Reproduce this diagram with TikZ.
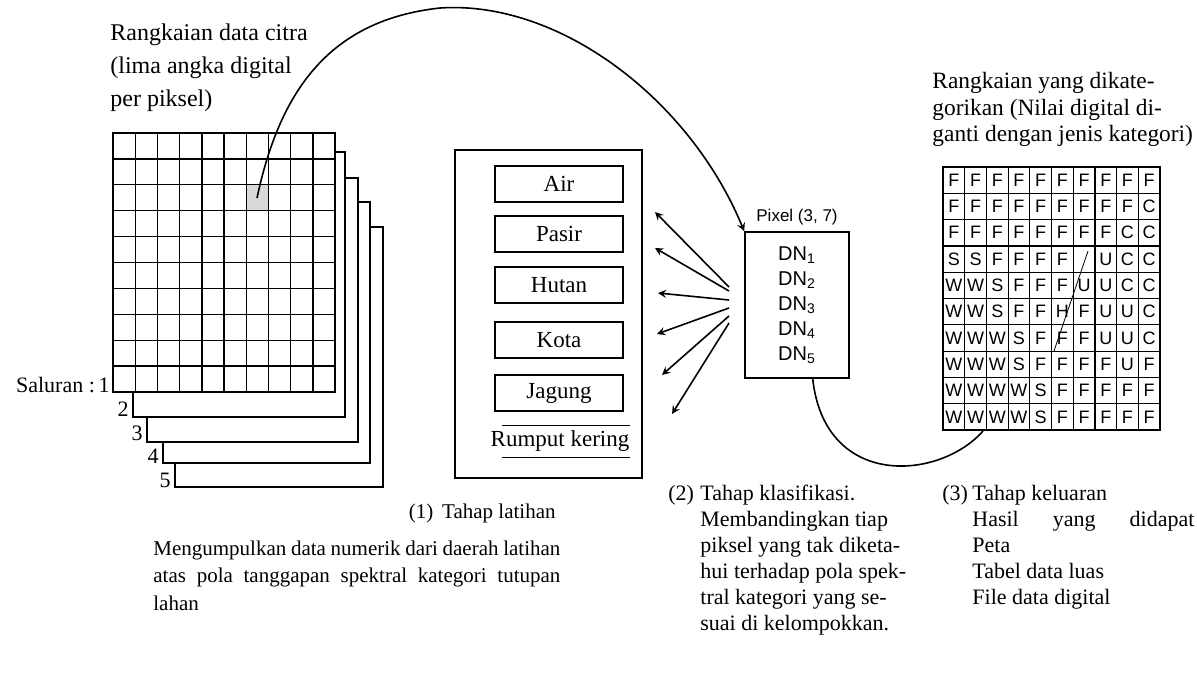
\documentclass[tikz,border=0pt]{standalone}
\usepackage{fontspec}
\setmainfont{Liberation Serif}
\setsansfont{Liberation Sans}
\usetikzlibrary{positioning}

\begin{document}
\begin{tikzpicture}[x=0.5pt,y=-0.5pt,>=stealth,
  txt/.style={anchor=base west,inner sep=0pt,font=\fontsize{11}{13}\selectfont},
  head/.style={txt,font=\fontsize{12}{14}\selectfont},
  chan/.style={anchor=east,inner sep=1pt,font=\fontsize{11}{13}\selectfont},
  catbox/.style={draw,thick,minimum width=64pt,minimum height=18pt,inner sep=0pt,font=\fontsize{11.5}{13}\selectfont},
  cell/.style={draw,line width=0.6pt,minimum width=10.85pt,minimum height=13.15pt,inner sep=0pt,font=\sffamily\fontsize{9}{10}\selectfont}]
\useasboundingbox (0,0) rectangle (1197,679);

% band stack, channel 5 at the back
\foreach \l/\t/\r/\b in {175/227/383/487,163/202/370/463,147/178/358/442,133/152/345/417}
  \draw[thick,fill=white] (\l,\t) rectangle (\r,\b);
% channel 1 with its pixel grid
\fill[white] (113,133) rectangle (335,392);
\fill[gray!30] (246.2,184.8) rectangle (268.4,210.7);
\foreach \i in {1,...,9} {
  \draw[line width=0.7pt] ({113+22.2*\i},133) -- ({113+22.2*\i},392);
  \draw[line width=0.7pt] (113,{133+25.9*\i}) -- (335,{133+25.9*\i});
}
\draw[thick] (113,133) rectangle (335,392);
\coordinate (px) at (257,198);

% channel numbers
\node[chan] (ch1) at (112,385) {Saluran :\,1};
\foreach \n/\x/\y in {2/131/409,3/145/433,4/161/456,5/173/480}
  \node[chan] (ch\n) at (\x,\y) {\n};

% image data label
\foreach \t [count=\i] in {{Rangkaian data citra},{(lima angka digital},{per piksel)}}
  \node[head] (src\i) at (110,{41+33*(\i-1)}) {\t};

% training categories
\node[draw,thick,minimum width=93.5pt,minimum height=164pt] (train) at (548.5,314) {};
\foreach \n/\y in {Air/184,Pasir/234,Hutan/285,Kota/340,Jagung/393}
  \node[catbox] (\n) at (559,\y) {\n};
\node[inner sep=0pt,font=\fontsize{11.5}{13}\selectfont] (Rumput) at (560,441) {Rumput kering};
\draw (502,425) -- (630,425);
\draw (502,457) -- (630,457);

% comparison arrows
\foreach \i/\a/\bx/\by in {1/287/655/212,2/291/655/248,3/300/658/293,4/308/657/334,5/316/662/375,6/323/672/414} {
  \coordinate (f\i) at (729,\a);
  \coordinate (t\i) at (\bx,\by);
  \draw[->,thick] (f\i) -- (t\i);
}

% unknown pixel
\node[draw,thick,minimum width=52pt,minimum height=73pt,align=center,
  font=\sffamily\fontsize{10}{12.5}\selectfont] (pix) at (797,305)
  {DN\textsubscript{1}\\DN\textsubscript{2}\\DN\textsubscript{3}\\DN\textsubscript{4}\\DN\textsubscript{5}};
\node[above=3pt of pix,inner sep=0pt,font=\sffamily\fontsize{8.5}{10}\selectfont] (pixlbl) {Pixel (3, 7)};

\draw[->,thick] (px) .. controls (280,90) and (330,20) .. (440,8)
  .. controls (560,0) and (690,100) .. (pix.north west);

% classified output
\foreach \t [count=\i] in {{Rangkaian yang dikate-},{gorikan (Nilai digital di-},{ganti dengan jenis kategori)}}
  \node[head,font=\fontsize{11.7}{14}\selectfont] (out\i) at (932,{89+26.5*(\i-1)}) {\t};

\foreach \row [count=\r] in {{F,F,F,F,F,F,F,F,F,F},{F,F,F,F,F,F,F,F,F,C},{F,F,F,F,F,F,F,F,C,C},
  {S,S,F,F,F,F,{},U,C,C},{W,W,S,F,F,F,U,U,C,C},{W,W,S,F,F,H,F,U,U,C},{W,W,W,S,F,F,F,U,U,C},
  {W,W,W,S,F,F,F,F,U,F},{W,W,W,W,S,F,F,F,F,F},{W,W,W,W,S,F,F,F,F,F}}
  \foreach \c [count=\k] in \row
    \node[cell] (c\r-\k) at ({943+21.7*(\k-0.5)},{167+26.3*(\r-0.5)}) {\c};
\draw[thick] (c1-1.north west) rectangle (c10-10.south east);
\draw (1088,251) -- (1054,351);
\coordinate (gridin) at (983,431);

\draw[thick] (pix.282) .. controls (825,490) and (940,480) .. (gridin);

% step 1
\node[anchor=base east,inner sep=0pt,font=\fontsize{10.5}{13}\selectfont] (step1) at (556,518) {(1)\, Tahap latihan};
\node[txt,font=\fontsize{10.5}{13}\selectfont] (s1a) at (153,555) {\makebox[203.5pt][s]{Mengumpulkan data numerik dari daerah latihan}};
\node[txt,font=\fontsize{10.5}{13}\selectfont] (s1b) at (153,582) {\makebox[203.5pt][s]{atas pola tanggapan spektral kategori tutupan}};
\node[txt,font=\fontsize{10.5}{13}\selectfont] (s1c) at (153,610) {lahan};

% step 2
\node[txt] (step2) at (668,500) {(2)};
\foreach \t [count=\i] in {{Tahap klasifikasi.},{Membandingkan tiap},{piksel yang tak diketa-},{hui terhadap pola spek-},{tral kategori yang se-},{suai di kelompokkan.}}
  \node[txt] (s2\i) at (700,{500+26*(\i-1)}) {\t};

% step 3
\node[txt] (step3) at (942,500) {(3)};
\node[txt] (s31) at (972,500) {Tahap keluaran};
\node[txt] (s32) at (972,526) {\makebox[111pt][s]{Hasil yang didapat}};
\foreach \t [count=\i from 3] in {{Peta},{Tabel data luas},{File data digital}}
  \node[txt] (s3\i) at (972,{526+26*(\i-2)}) {\t};
\end{tikzpicture}
\end{document}
